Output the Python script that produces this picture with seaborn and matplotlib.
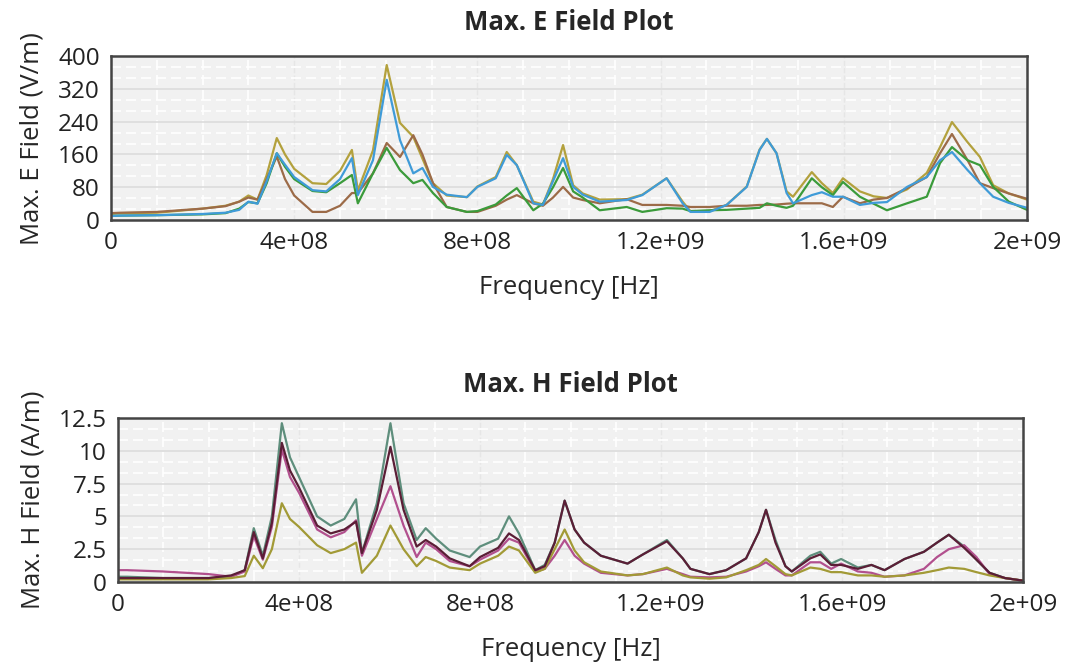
import numpy as np
import pandas as pd
import matplotlib
matplotlib.use("Agg")
import matplotlib.pyplot as plt
from matplotlib.ticker import MultipleLocator
import seaborn as sns

# Frequencias comunes (MHz)
freq_mhz = [0, 20, 100, 200, 250, 280, 300, 320, 340, 362, 380, 400, 440, 470, 500,
            526, 539, 572, 602, 631, 660, 680, 703, 733, 777, 800, 840, 864, 886, 922,
            943, 965, 987, 1009, 1030, 1067, 1126, 1160, 1213, 1248, 1265, 1307, 1344,
            1388, 1416, 1432, 1453, 1475, 1489, 1530, 1552, 1576, 1598, 1635, 1665,
            1694, 1738, 1781, 1810, 1836, 1870, 1897, 1926, 1960, 2000]

# Campo E (V/m)
e_olive = [15, 17, 18, 28, 35, 45, 60, 50, 110, 200, 160, 125, 90, 88, 120,
           171, 72, 170, 378, 237, 203, 150, 90, 60, 56, 82, 105, 166, 134, 45,
           38, 100, 183, 85, 65, 50, 51, 62, 102, 45, 22, 22, 37,
           82, 172, 198, 163, 70, 57, 117, 90, 66, 102, 70, 58,
           54, 75, 115, 178, 239, 190, 154, 85, 65, 50]
e_brown = [17, 18, 20, 28, 34, 45, 55, 50, 100, 155, 100, 60, 20, 20, 35,
           66, 66, 114, 188, 154, 207, 160, 90, 32, 20, 20, 35, 50, 61, 41,
           35, 55, 81, 55, 49, 41, 51, 37, 37, 35, 32, 32, 35,
           35, 37, 37, 38, 40, 41, 41, 41, 32, 57, 41, 50,
           54, 78, 105, 163, 210, 146, 90, 78, 65, 52]
e_green = [10, 11, 12, 14, 17, 28, 44, 41, 90, 163, 130, 100, 71, 68, 90,
           110, 41, 114, 176, 122, 90, 98, 66, 32, 20, 22, 38, 60, 78, 24,
           40, 80, 127, 70, 55, 24, 32, 20, 29, 28, 22, 24, 25,
           28, 30, 41, 35, 30, 35, 102, 80, 61, 93, 57, 40,
           24, 41, 57, 139, 178, 146, 134, 81, 45, 25]
e_blue = [10, 11, 12, 15, 18, 25, 45, 40, 95, 163, 135, 105, 73, 70, 100,
          151, 61, 146, 342, 195, 114, 127, 81, 62, 56, 81, 102, 159, 134, 41,
          37, 95, 151, 81, 62, 45, 49, 61, 102, 41, 20, 20, 37,
          81, 171, 198, 163, 66, 41, 61, 68, 57, 57, 37, 42,
          44, 81, 105, 146, 166, 122, 90, 57, 42, 30]

# Campo H (A/m)
h_teal = [0.4, 0.4, 0.3, 0.3, 0.4, 0.9, 4.1, 2.0, 5.0, 12.1, 9.5, 8.0, 5.0, 4.3, 4.8,
          6.3, 2.2, 6.0, 12.1, 6.0, 3.2, 4.1, 3.3, 2.4, 1.9, 2.7, 3.3, 5.0, 3.7, 0.9,
          1.3, 3.0, 6.2, 4.0, 3.0, 2.0, 1.4, 2.1, 3.2, 1.8, 1.0, 0.6, 0.9,
          1.8, 3.8, 5.5, 3.2, 1.2, 0.8, 2.0, 2.3, 1.4, 1.75, 1.1, 1.3,
          0.9, 1.75, 2.3, 3.0, 3.6, 2.7, 1.7, 0.7, 0.3, 0.1]
h_maroon = [0.3, 0.3, 0.3, 0.3, 0.5, 0.9, 3.8, 1.8, 4.5, 10.6, 8.5, 7.2, 4.3, 3.7, 4.0,
            4.6, 2.2, 5.5, 10.3, 5.5, 2.7, 3.2, 2.7, 1.8, 1.2, 1.9, 2.6, 3.7, 3.2, 0.9,
            1.2, 3.0, 6.2, 4.0, 3.0, 2.0, 1.4, 2.1, 3.1, 1.8, 1.0, 0.6, 0.9,
            1.8, 3.8, 5.5, 3.0, 1.2, 0.8, 1.8, 2.1, 1.3, 1.3, 1.0, 1.3,
            0.9, 1.75, 2.3, 3.0, 3.6, 2.6, 1.7, 0.7, 0.3, 0.1]
h_pink = [0.9, 0.9, 0.8, 0.6, 0.4, 0.8, 3.5, 1.7, 4.2, 10.1, 8.0, 6.8, 4.0, 3.4, 3.8,
          4.7, 2.0, 4.8, 7.3, 4.3, 1.9, 3.0, 2.5, 1.6, 1.2, 1.7, 2.4, 3.3, 3.0, 0.8,
          1.0, 2.0, 3.2, 2.0, 1.4, 0.7, 0.5, 0.6, 1.0, 0.6, 0.4, 0.35, 0.4,
          0.8, 1.2, 1.5, 1.0, 0.5, 0.5, 1.5, 1.5, 1.0, 1.4, 0.8, 0.7,
          0.4, 0.5, 1.0, 1.9, 2.5, 2.8, 1.9, 0.6, 0.3, 0.1]
h_olive = [0.2, 0.2, 0.2, 0.2, 0.3, 0.45, 2.0, 1.05, 2.5, 6.0, 4.8, 4.2, 2.8, 2.2, 2.5,
           3.0, 0.7, 2.0, 4.3, 2.5, 1.2, 1.9, 1.6, 1.1, 0.9, 1.4, 2.0, 2.7, 2.4, 0.7,
           1.0, 2.5, 4.0, 2.4, 1.5, 0.8, 0.5, 0.6, 1.1, 0.5, 0.35, 0.25, 0.35,
           0.9, 1.3, 1.75, 1.2, 0.6, 0.5, 1.1, 1.0, 0.75, 0.75, 0.5, 0.5,
           0.4, 0.5, 0.7, 0.9, 1.1, 1.0, 0.75, 0.5, 0.3, 0.1]

x_ticks = [0, 4e8, 8e8, 1.2e9, 1.6e9, 2e9]
x_labels = ['0', '4e+08', '8e+08', '1.2e+09', '1.6e+09', '2e+09']
e_ticks = [0, 80, 160, 240, 320, 400]
h_ticks = [0, 2.5, 5, 7.5, 10, 12.5]
h_labels = ['0', '2.5', '5', '7.5', '10', '12.5']

freq = np.array(freq_mhz) * 1e6

sns.set_style("white")
plt.rcParams['font.family'] = ['Open Sans', 'DejaVu Sans']

fig = plt.figure(figsize=(10.71, 6.63), dpi=100)
ax1 = fig.add_axes([0.1036, 0.668, 0.8554, 0.2475])
ax2 = fig.add_axes([0.1102, 0.1222, 0.8450, 0.2474])


def estilo(ax, yticks, ylabels, titulo, ylabel):
    ax.set_facecolor('#f1f1f1')
    ax.set_xlim(0, 2e9)
    ax.set_ylim(0, yticks[-1])
    ax.set_xticks(x_ticks, x_labels)
    ax.set_yticks(yticks, ylabels)
    ax.xaxis.set_minor_locator(MultipleLocator(1e8))
    ax.yaxis.set_minor_locator(MultipleLocator(yticks[1] / 3))
    ax.grid(which='major', axis='y', color='#dcdcdc', lw=1.2)
    ax.grid(which='major', axis='x', color='#e6e6e6', lw=1.0, ls='--')
    ax.grid(which='minor', color='#ffffff', lw=1.2, ls=(0, (6, 3)))
    ax.set_axisbelow(True)
    ax.tick_params(which='both', length=0, labelsize=17.5, colors='#222222')
    ax.tick_params(axis='x', pad=8)
    ax.tick_params(axis='y', pad=8)
    for s in ax.spines.values():
        s.set_color('#444444')
        s.set_linewidth(1.8)
    ax.set_title(titulo, fontsize=18.5, fontweight='bold', pad=19)
    ax.set_xlabel('Frequency [Hz]', fontsize=18.5, labelpad=14)
    ax.set_ylabel(ylabel, fontsize=18.5, labelpad=10)


lw = 1.6
sns.lineplot(x=freq, y=e_olive, ax=ax1, color='#b3a13d', lw=lw)
sns.lineplot(x=freq, y=e_brown, ax=ax1, color='#9c6b48', lw=lw)
sns.lineplot(x=freq, y=e_green, ax=ax1, color='#3b9b3b', lw=lw)
sns.lineplot(x=freq, y=e_blue, ax=ax1, color='#3f9bd8', lw=lw)
estilo(ax1, e_ticks, [str(t) for t in e_ticks], 'Max. E Field Plot', 'Max. E Field (V/m)')

sns.lineplot(x=freq, y=h_teal, ax=ax2, color='#5e8e7c', lw=lw)
sns.lineplot(x=freq, y=h_pink, ax=ax2, color='#b2508e', lw=lw)
sns.lineplot(x=freq, y=h_olive, ax=ax2, color='#a29a36', lw=lw)
sns.lineplot(x=freq, y=h_maroon, ax=ax2, color='#5b1e36', lw=lw)
estilo(ax2, h_ticks, h_labels, 'Max. H Field Plot', 'Max. H Field (A/m)')

fig.savefig('out.png', dpi=100)
